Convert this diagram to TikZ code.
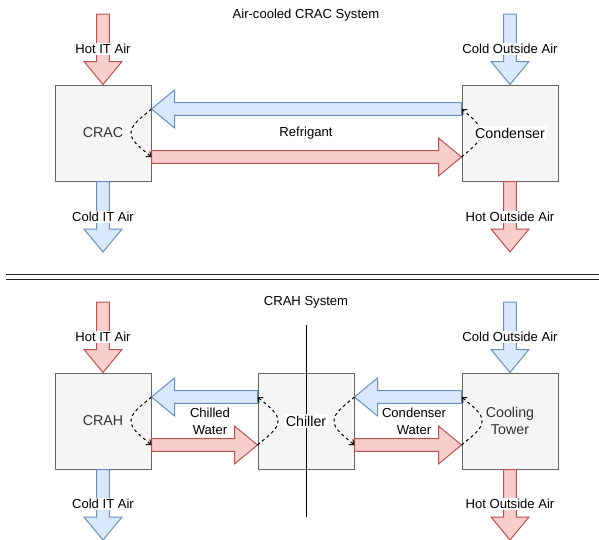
\documentclass[tikz,border=0pt]{standalone}
\usepackage{fontspec}
\setmainfont{Liberation Sans}
\usetikzlibrary{calc,arrows.meta}

\definecolor{redfill}{HTML}{F8CECC}
\definecolor{redline}{HTML}{B85450}
\definecolor{bluefill}{HTML}{DAE8FC}
\definecolor{blueline}{HTML}{6C8EBF}
\definecolor{boxfill}{HTML}{F5F5F5}
\definecolor{boxline}{HTML}{666666}
\definecolor{boxtextcol}{HTML}{333333}

% block arrow from #2 to #3 with style #1
\newcommand\flowarrow[3]{%
  \coordinate (fa-h) at ($(#3)!17.25pt!(#2)$);
  \draw[#1] ($(#2)!4.7pt!90:(#3)$) -- ($(fa-h)!4.7pt!90:(#3)$)
    -- ($(fa-h)!14.25pt!90:(#3)$) -- (#3)
    -- ($(fa-h)!14.25pt!-90:(#3)$) -- ($(fa-h)!4.7pt!-90:(#3)$)
    -- ($(#2)!4.7pt!-90:(#3)$) -- cycle;
}

\tikzset{
  unit box/.style={draw=boxline, fill=boxfill, line width=0.75pt,
    minimum width=72pt, minimum height=72pt, inner sep=0pt},
  boxtext/.style={text=boxtextcol, font=\fontsize{10.7}{12.75}\selectfont,
    align=center, inner sep=1pt},
  plainboxtext/.style={boxtext, text=black, fill=white},
  flowlabel/.style={font=\fontsize{9.8}{12.75}\selectfont, align=center, inner sep=1pt},
  airlabel/.style={flowlabel, fill=white},
  hot/.style={draw=redline, fill=redfill, line width=0.75pt, line join=miter},
  cold/.style={draw=blueline, fill=bluefill, line width=0.75pt, line join=miter},
  loop/.style={line width=0.75pt, dash pattern=on 2.25pt off 2.25pt,
    -{Straight Barb[length=3pt,width=5pt]}},
  rule/.style={line width=1pt, draw=black!85},
}

\begin{document}
\begin{tikzpicture}[x=0.75pt, y=-0.75pt]
\useasboundingbox[fill=white] (0,0) rectangle (599,539);

% ---------------- Air-cooled CRAC system ----------------
\node[flowlabel] (title1) at (306,15) {Air-cooled CRAC System};

\node[unit box] (crac) at (103,133) {};
\node[unit box] (cond) at (510,133) {};

\coordinate (crac-top) at (103,14);
\coordinate (crac-bot) at (103,252);
\coordinate (cond-top) at (510,14);
\coordinate (cond-bot) at (510,252);

\coordinate (crac-r1) at ($(crac.east)+(0,-24)$);
\coordinate (crac-r2) at ($(crac.east)+(0,24)$);
\coordinate (cond-l1) at ($(cond.west)+(0,-24)$);
\coordinate (cond-l2) at ($(cond.west)+(0,24)$);

\flowarrow{hot}{crac-top}{crac.north}
\flowarrow{cold}{crac.south}{crac-bot}
\flowarrow{cold}{cond-top}{cond.north}
\flowarrow{hot}{cond.south}{cond-bot}
\flowarrow{cold}{cond-l1}{crac-r1}
\flowarrow{hot}{crac-r2}{cond-l2}

\node[airlabel] (l-hotit1) at (103,49) {Hot IT Air};
\node[airlabel] (l-coldit1) at (103,217) {Cold IT Air};
\node[airlabel] (l-coldout1) at (510,49) {Cold Outside Air};
\node[airlabel] (l-hotout1) at (510,217) {Hot Outside Air};
\node[flowlabel] (l-refr) at (306,133) {Refrigant};

\draw[loop] (crac-r1) .. controls +(-12,10) and +(0,-8) .. (131,133)
  .. controls +(0,8) and +(-12,-10) .. (crac-r2);
\draw[loop] (cond-l2) .. controls +(12,-10) and +(0,8) .. (481,133)
  .. controls +(0,-8) and +(12,10) .. (cond-l1);

\node[boxtext] (t-crac) at (crac.center) {CRAC};
\node[plainboxtext] (t-cond) at (cond.center) {Condenser};

% ---------------- separator ----------------
\draw[rule] (6,274.5) -- (599,274.5);
\draw[rule] (6,279.5) -- (599,279.5);

% ---------------- CRAH system ----------------
\node[flowlabel] (title2) at (306,302) {CRAH System};

\node[unit box] (crah) at (103,421) {};
\node[unit box] (chil) at (306,421) {};
\node[unit box] (tower) at (510,421) {};

% divider through the chiller
\coordinate (div-top) at (306,325);
\coordinate (div-bot) at (306,517);
\draw[line width=0.75pt] (div-top) -- (div-bot);

\coordinate (crah-top) at (103,302);
\coordinate (crah-bot) at (103,540);
\coordinate (tower-top) at (510,302);
\coordinate (tower-bot) at (510,540);

\coordinate (crah-r1) at ($(crah.east)+(0,-24)$);
\coordinate (crah-r2) at ($(crah.east)+(0,24)$);
\coordinate (chil-l1) at ($(chil.west)+(0,-24)$);
\coordinate (chil-l2) at ($(chil.west)+(0,24)$);
\coordinate (chil-r1) at ($(chil.east)+(0,-24)$);
\coordinate (chil-r2) at ($(chil.east)+(0,24)$);
\coordinate (tower-l1) at ($(tower.west)+(0,-24)$);
\coordinate (tower-l2) at ($(tower.west)+(0,24)$);

\flowarrow{hot}{crah-top}{crah.north}
\flowarrow{cold}{crah.south}{crah-bot}
\flowarrow{cold}{tower-top}{tower.north}
\flowarrow{hot}{tower.south}{tower-bot}
\flowarrow{cold}{chil-l1}{crah-r1}
\flowarrow{hot}{crah-r2}{chil-l2}
\flowarrow{cold}{tower-l1}{chil-r1}
\flowarrow{hot}{chil-r2}{tower-l2}

\node[airlabel] (l-hotit2) at (103,337) {Hot IT Air};
\node[airlabel] (l-coldit2) at (103,504) {Cold IT Air};
\node[airlabel] (l-coldout2) at (510,337) {Cold Outside Air};
\node[airlabel] (l-hotout2) at (510,504) {Hot Outside Air};
\node[flowlabel] (l-chw) at (210,421.5) {Chilled\\Water};
\node[flowlabel] (l-cdw) at (414,421.5) {Condenser\\Water};

\draw[loop] (crah-r1) .. controls +(-12,10) and +(0,-8) .. (131,421)
  .. controls +(0,8) and +(-12,-10) .. (crah-r2);
\draw[loop] (chil-l2) .. controls +(12,-10) and +(0,8) .. (278,421)
  .. controls +(0,-8) and +(12,10) .. (chil-l1);
\draw[loop] (chil-r1) .. controls +(-12,10) and +(0,-8) .. (334,421)
  .. controls +(0,8) and +(-12,-10) .. (chil-r2);
\draw[loop] (tower-l2) .. controls +(12,-10) and +(0,8) .. (482,421)
  .. controls +(0,-8) and +(12,10) .. (tower-l1);

\node[boxtext] (t-crah) at (crah.center) {CRAH};
\node[plainboxtext] (t-chil) at (chil.center) {Chiller};
\node[boxtext] (t-tower) at (tower.center) {Cooling\\Tower};
\end{tikzpicture}
\end{document}
